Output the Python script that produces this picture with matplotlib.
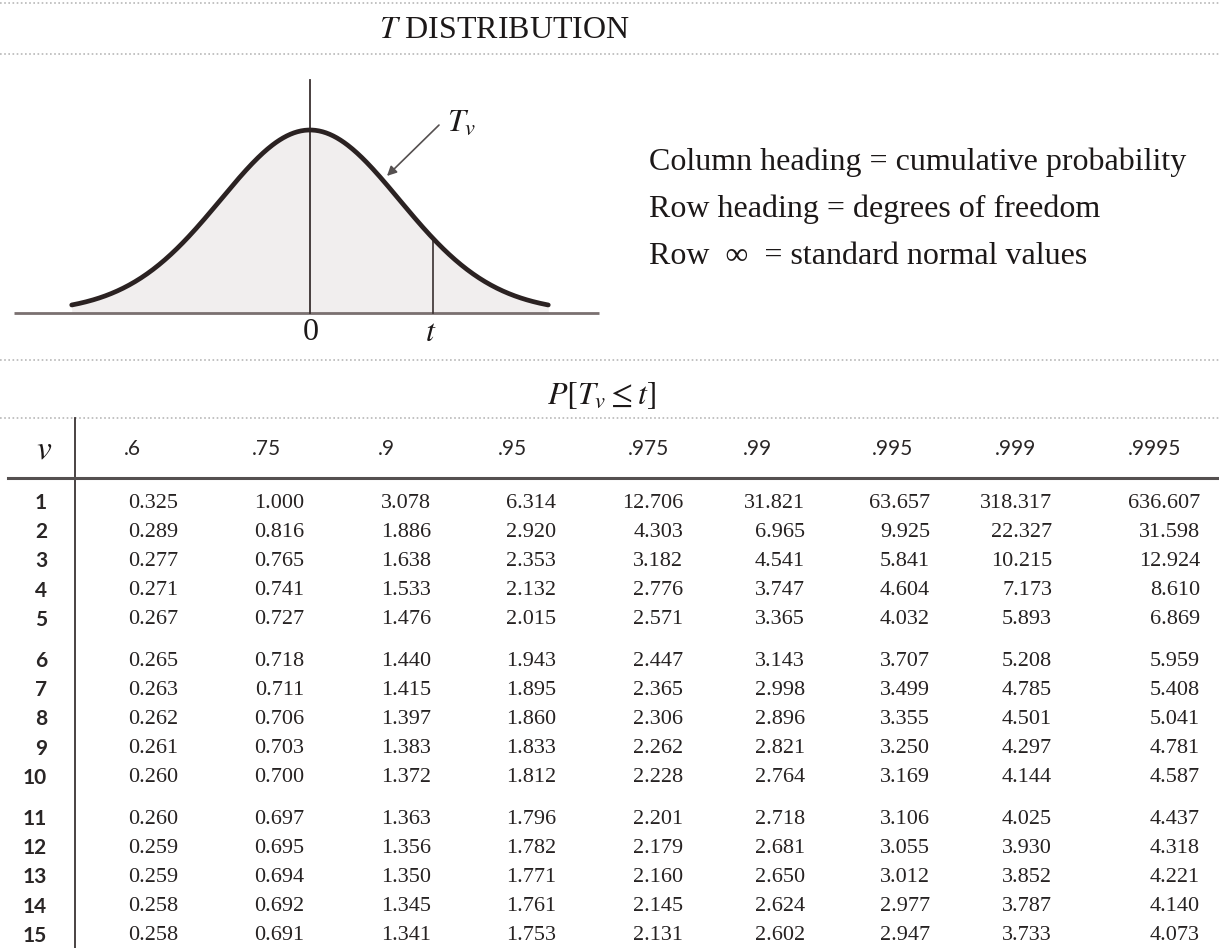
import numpy as np
import matplotlib
matplotlib.use("Agg")
import matplotlib.pyplot as plt

plt.rcParams['mathtext.fontset'] = 'stix'
SERIF = ['Liberation Serif', 'DejaVu Serif']
SANS = ['Lato', 'DejaVu Sans']
INK = '#1c1818'

# table data
probs = ['.6', '.75', '.9', '.95', '.975', '.99', '.995', '.999', '.9995']
dof = list(range(1, 16))
t_600 = [0.325, 0.289, 0.277, 0.271, 0.267, 0.265, 0.263, 0.262, 0.261, 0.260, 0.260, 0.259, 0.259, 0.258, 0.258]
t_750 = [1.000, 0.816, 0.765, 0.741, 0.727, 0.718, 0.711, 0.706, 0.703, 0.700, 0.697, 0.695, 0.694, 0.692, 0.691]
t_900 = [3.078, 1.886, 1.638, 1.533, 1.476, 1.440, 1.415, 1.397, 1.383, 1.372, 1.363, 1.356, 1.350, 1.345, 1.341]
t_950 = [6.314, 2.920, 2.353, 2.132, 2.015, 1.943, 1.895, 1.860, 1.833, 1.812, 1.796, 1.782, 1.771, 1.761, 1.753]
t_975 = [12.706, 4.303, 3.182, 2.776, 2.571, 2.447, 2.365, 2.306, 2.262, 2.228, 2.201, 2.179, 2.160, 2.145, 2.131]
t_990 = [31.821, 6.965, 4.541, 3.747, 3.365, 3.143, 2.998, 2.896, 2.821, 2.764, 2.718, 2.681, 2.650, 2.624, 2.602]
t_995 = [63.657, 9.925, 5.841, 4.604, 4.032, 3.707, 3.499, 3.355, 3.250, 3.169, 3.106, 3.055, 3.012, 2.977, 2.947]
t_999 = [318.317, 22.327, 10.215, 7.173, 5.893, 5.208, 4.785, 4.501, 4.297, 4.144, 4.025, 3.930, 3.852, 3.787, 3.733]
t_9995 = [636.607, 31.598, 12.924, 8.610, 6.869, 5.959, 5.408, 5.041, 4.781, 4.587, 4.437, 4.318, 4.221, 4.140, 4.073]
columns = [t_600, t_750, t_900, t_950, t_975, t_990, t_995, t_999, t_9995]

# sketch of the density (shape parameter and where t sits)
curve_df = 30
curve_halfwidth = 2.59
t_mark = 1.337

W, H = 1219, 948
fig = plt.figure(figsize=(W / 100, H / 100), dpi=100)
fig.patch.set_facecolor('white')

lay = fig.add_axes([0, 0, 1, 1])
lay.set_xlim(0, W)
lay.set_ylim(H, 0)
lay.axis('off')

# dotted rules
for yy in [3, 54, 360, 418]:
    lay.plot([0, W], [yy, yy], color='#b8b8b8', lw=1.2, ls=(0, (1, 1.5)))

lay.text(505, 30, '$T$ DISTRIBUTION', family=SERIF, fontsize=23, color=INK,
         ha='center', va='center')

notes = ['Column heading = cumulative probability',
         'Row heading = degrees of freedom',
         'Row  \u221e  = standard normal values']
for k, s in enumerate(notes):
    lay.text(649, 162 + 47 * k, s, family=SERIF, fontsize=23, color=INK,
             ha='left', va='center')

lay.text(602, 396, r'$P[T_v \leq t]$', fontsize=23, color=INK,
         ha='center', va='center')

# table frame
lay.plot([75, 75], [418, H], color='#3a3434', lw=1.3)
lay.plot([8, W], [478, 478], color='#555050', lw=2.2)

head_x = [124, 252, 378, 498, 628, 743, 872, 995, 1128]
right_x = [178, 304, 431, 556, 683, 805, 930, 1052, 1200]
lay.text(44, 449, '$v$', fontsize=24, color=INK, ha='center', va='center')
for j, p in enumerate(probs):
    lay.text(head_x[j], 449, p, family=SANS, fontsize=15, color='#2a2626',
             ha='left', va='center')

for i, d in enumerate(dof):
    y = 503 + i * 29.2 + (i // 5) * 12
    lay.text(47, y, str(d), family=SANS, fontsize=15, color='#2a2626',
             ha='right', va='center', fontweight='bold')
    for j, col in enumerate(columns):
        lay.text(right_x[j], y, f'{col[i]:.3f}', family=SERIF, fontsize=16,
                 color='#262222', ha='right', va='center')

# density sketch, 1 unit = 92 px horizontally, peak = 183 px
ax = fig.add_axes([0, 1 - 350 / H, 620 / W, 290 / H])
ax.set_xlim(-310 / 92, 310 / 92)
ax.set_ylim(-37 / 183, 253 / 183)
ax.axis('off')

u = np.linspace(-curve_halfwidth, curve_halfwidth, 400)
f = (1 + u ** 2 / curve_df) ** (-(curve_df + 1) / 2)
ft = (1 + t_mark ** 2 / curve_df) ** (-(curve_df + 1) / 2)

ax.fill_between(u, 0, f, color='#f1eeee', lw=0)
ax.plot([-3.217, 3.141], [0, 0], color='#7a7070', lw=2.0, solid_capstyle='butt')
ax.plot([0, 0], [0, 1.273], color='#3a3030', lw=1.3)
ax.plot([t_mark, t_mark], [0, ft], color='#3a3030', lw=1.2)
ax.plot(u, f, color='#2b2222', lw=3.4, solid_capstyle='round')

ax.text(0.01, -0.104, '0', family=SERIF, fontsize=23, color=INK, ha='center', va='center')
ax.text(t_mark - 0.02, -0.104, '$t$', fontsize=23, color=INK, ha='center', va='center')
ax.text(1.489, 1.044, '$T_v$', fontsize=23, color=INK, ha='left', va='center')
ax.annotate('', xy=(0.837, 0.749), xytext=(1.402, 1.027),
            arrowprops=dict(arrowstyle='-|>', color='#555050', lw=1.2,
                            mutation_scale=14, shrinkA=0, shrinkB=0))

fig.savefig('out.png', dpi=100, facecolor='white')
